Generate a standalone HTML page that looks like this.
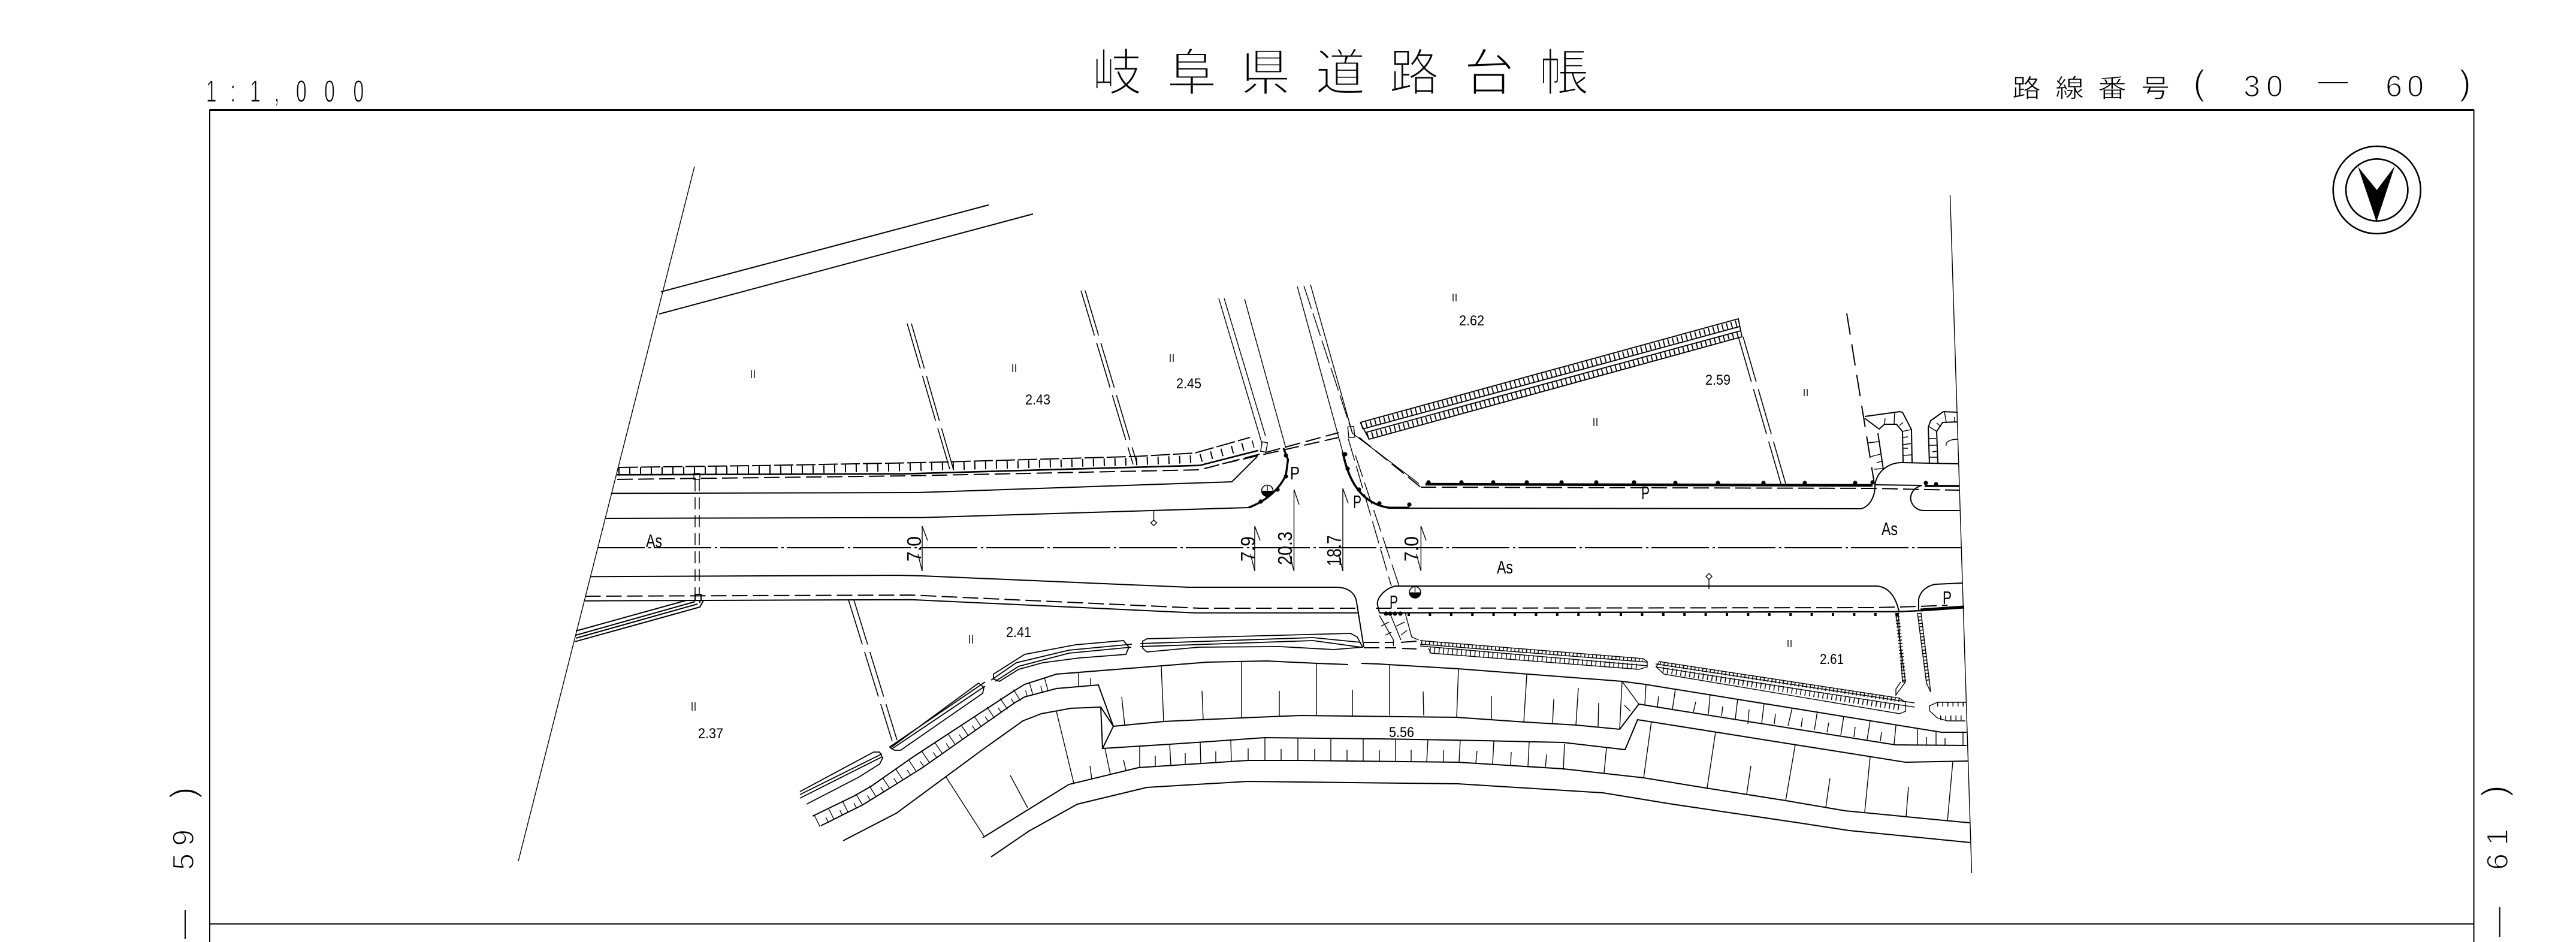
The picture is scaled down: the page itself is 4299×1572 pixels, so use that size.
<!DOCTYPE html>
<html><head><meta charset="utf-8"><style>
html,body{margin:0;padding:0;background:#fff}
svg{display:block}
.l{fill:none;stroke:#000;stroke-width:2}
.t{fill:none;stroke:#000;stroke-width:1.4}
.k{fill:none;stroke:#000;stroke-width:4}
.d{fill:none;stroke:#000;stroke-width:2;stroke-dasharray:26 9}
.e{fill:none;stroke:#000;stroke-width:1.6;stroke-dasharray:78 13}
.c{fill:none;stroke:#000;stroke-width:1.5}
text{fill:#000}
.cjk{font-family:"Liberation Sans","Noto Sans CJK JP",sans-serif;text-anchor:middle;stroke:#fff}
.la{font-family:"Liberation Sans",sans-serif;font-size:31px}
.nm{font-family:"Liberation Sans",sans-serif;font-size:24px}
.di{font-family:"Liberation Sans",sans-serif;font-size:33px}
.th{font-family:"Liberation Sans",sans-serif;stroke:#fff;text-anchor:middle}
</style></head><body>
<svg width="4299" height="1572" viewBox="0 0 4299 1572" xmlns="http://www.w3.org/2000/svg">
<rect width="4299" height="1572" fill="#fff"/>
<!-- frame -->
<path class="l" d="M350 1572V183.5H4128.5V1572"/>
<path d="M350 183.5H4128.5" stroke="#000" stroke-width="3" fill="none"/>
<path class="l" d="M350 1541.7H4128"/>
<!-- headers -->
<g class="cjk" font-size="84" stroke-width="3">
<text x="1864" y="151">岐</text><text x="1989" y="151">阜</text><text x="2112" y="151">県</text><text x="2237" y="151">道</text><text x="2360" y="151">路</text><text x="2485" y="151">台</text><text x="2610" y="151">帳</text>
</g>
<g class="cjk" font-size="48" stroke-width="1" transform="translate(0,162) scale(1,.88)">
<text x="3382" y="0">路</text><text x="3454" y="0">線</text><text x="3525" y="0">番</text><text x="3597" y="0">号</text>
</g>
<g class="th" font-size="52" stroke-width="1.3" transform="translate(0,170) scale(.62,1)">
<text x="569 627 687 745 811 887 965" y="0">1:1,000</text>
</g>
<g class="th" stroke-width="1.6" font-size="50">
<text x="3670" y="158" font-size="58">(</text>
<text x="3758 3796" y="161">30</text>
<text x="3995 4031" y="161">60</text>
<text x="4114" y="158" font-size="58">)</text>
</g>
<path class="l" d="M3869 138H3918"/>
<g class="th" font-size="50" stroke-width="1.6">
<text transform="translate(323,1438) rotate(-90)" x="0" y="0">5</text>
<text transform="translate(323,1398) rotate(-90)" x="0" y="0">9</text>
<text transform="translate(325,1323) rotate(-90)" x="0" y="0" font-size="58">)</text>
<text transform="translate(4185,1438) rotate(-90)" x="0" y="0">6</text>
<text transform="translate(4185,1397) rotate(-90)" x="0" y="0">1</text>
<text transform="translate(4182,1320) rotate(-90)" x="0" y="0" font-size="58">)</text>
</g>
<path class="l" d="M309 1519V1567M4171.7 1514V1564"/>
<!-- compass -->
<circle class="l" cx="3966.7" cy="317" r="73" style="stroke-width:2.6"/>
<circle class="l" cx="3966.7" cy="317" r="51.7" style="stroke-width:2.6"/>
<path d="M3935 278L3966.7 317L3996.7 277L3966 370Z" fill="#000"/>
<!-- boundaries -->
<path class="t" d="M1159 278L865 1437M3254.5 326L3290.5 1457"/>
<path class="l" d="M1103 487L1650 342M1100 524L1724 357"/>
<!-- centerline -->
<path d="M998 914H3272" fill="none" stroke="#000" stroke-width="2" stroke-dasharray="96 6 4 5" stroke-dashoffset="18"/>
<!-- upper road left -->
<path fill="none" stroke="#000" stroke-width="2.6" d="M1030 792.3L1512 790.7L2002 776.7L2100 751.7"/>
<path class="l" stroke-dasharray="32 5" d="M1033 780L1283 776.7L1550 771.7L1895 761.7L1994 756L2086 730"/>
<path fill="none" stroke="#000" stroke-width="13" stroke-dasharray="2 16" d="M1032 786L1283 784.5L1550 779L1895 770L1998 766L2092 741"/>
<path class="d" d="M1030 800L1520 794L2002 784L2094 760L2234 722"/>
<path class="d" d="M2040 774L2234 730"/>
<path class="l" d="M1021 823.3L1531 822L2056 804L2098 762"/>
<path class="l" d="M1011 865L1539 863.7L2084 847"/>
<path fill="none" stroke="#000" stroke-width="3.4" d="M2084 847Q2128 830 2146 793L2149.5 767L2142 748"/>
<!-- lower road left -->
<path class="l" d="M986.5 962.3L1497 960L1539 961L1983 980L2230 980C2250 980 2262 990 2264 1005L2276 1080"/>
<path class="d" d="M976.5 995L1520 993L2002 1015L2268 1015"/>
<path class="d" d="M2296 1015L3129 1014L3202 1012L3250 1010"/>
<path class="l" d="M976.5 1002.7L1520 1000.7L1994 1022.7L2268 1022.7"/>
<path fill="none" stroke="#000" stroke-width="2.4" d="M2302 1022.7L3170 1020.7L3205 1019"/>
<path fill="none" stroke="#000" stroke-width="5" d="M3205 1018L3278 1013"/>
<path fill="none" stroke="#000" stroke-width="5" stroke-dasharray="4 31.4" d="M2349 1025.5H3170"/>
<!-- vertical double dashed -->
<path fill="none" stroke="#000" stroke-width="1.5" stroke-dasharray="20 10" d="M1160 800V992M1167 800V992"/>
<rect class="t" x="1158" y="790" width="10" height="10"/><rect class="l" x="1160" y="992" width="10" height="10"/>
<!-- lower-left diagonal -->
<path class="l" d="M1145 1002L961 1053M1160 1004L961 1060M1164 1008L961 1065M1174 1002L1168 1013L960 1070.7M1168 1002V1006"/>
<!-- dashed doubles -->
<path class="e" d="M1514 540L1585 783M1521 540L1591 783"/>
<path class="e" d="M1804 485L1891 775M1811 485L1897 772"/>
<path class="e" d="M1416 1001L1489 1237M1425 1001L1497 1235"/>
<path class="e" d="M2901 562L2972 807M2909 562L2980 807"/>
<path class="t" d="M2034 498L2106 740M2043 498L2112 728M2077 499L2146 748"/>
<path class="l" stroke-dasharray="36 16" d="M3082 523L3128 807"/>
<!-- junction -->
<path class="t" d="M2165 478L2241 755"/>
<path class="t" stroke-dasharray="40 8" d="M2176 477L2257 723"/>
<path class="t" d="M2187 475L2257 723"/>
<path fill="none" stroke="#000" stroke-width="1.4" stroke-dasharray="38 10" d="M2250 732L2322 978M2262 760L2335 978"/>
<path class="t" d="M2257 723L2368 807"/>
<path class="d" d="M2268 730L2371 813"/>
<path fill="none" stroke="#000" stroke-width="3.6" d="M2241 755C2250 800 2270 840 2318 847.3H2352"/>
<rect class="t" x="2105" y="738" width="9" height="16" transform="rotate(10 2110 746)"/>
<rect class="t" x="2250" y="712" width="10" height="18" transform="rotate(-6 2255 720)"/>
<!-- right upper curb -->
<path fill="none" stroke="#000" stroke-width="4.4" d="M2379 808L3125 810"/>
<g fill="#000"><circle cx="2384" cy="805" r="3.6"/><circle cx="2439" cy="805" r="3.6"/><circle cx="2492" cy="805" r="3.6"/><circle cx="2548" cy="805" r="3.6"/><circle cx="2606" cy="805" r="3.6"/><circle cx="2664" cy="805" r="3.6"/><circle cx="2727" cy="805" r="3.6"/><circle cx="2796" cy="806" r="3.6"/><circle cx="2867" cy="806" r="3.6"/><circle cx="2943" cy="806" r="3.6"/><circle cx="3012" cy="806" r="3.6"/><circle cx="3096" cy="806" r="3.6"/><circle cx="3125" cy="805" r="3.6"/>
<circle cx="2146" cy="760" r="3.6"/><circle cx="2146" cy="795" r="3.6"/><circle cx="2132" cy="817" r="3.6"/><circle cx="2104" cy="837" r="3.6"/>
<circle cx="2245" cy="758" r="3.6"/><circle cx="2249" cy="782" r="3.6"/><circle cx="2268" cy="817" r="3.6"/><circle cx="2302" cy="840" r="3.6"/><circle cx="2352" cy="842" r="3.6"/>
<circle cx="2313" cy="1024" r="3.6"/><circle cx="2320" cy="1024" r="3.6"/><circle cx="2328" cy="1024" r="3.6"/><circle cx="2337" cy="1024" r="3.6"/>
<circle cx="3231" cy="808" r="3.6"/><circle cx="3214" cy="806" r="3.6"/>
</g>
<path class="d" d="M2371 813L3129 815L3198 816.7L3270 818"/>
<path class="l" d="M2318 848L3106 849C3120 845 3128 830 3129 815C3128 790 3150 772 3173 772L3268 774"/>
<path class="l" d="M3128 809L3207 810C3190 815 3186 830 3190 838C3194 848 3203 852 3210 852L3271 852"/>
<path fill="none" stroke="#000" stroke-width="3.4" d="M3212 811H3270"/>
<!-- right lower upper edge -->
<path class="l" d="M2329 978L3133 978C3150 980 3163 993 3169 1020"/>
<path class="l" d="M2329 978C2310 982 2296 1000 2299 1010L2302 1022"/>
<path class="l" d="M3202 1018L3202 1000C3205 985 3218 977 3230 975L3275 973"/>
<!-- driveway structures -->
<path class="l" d="M3112 695L3170 687L3175 688L3190 717L3191 772M3112 698L3136 716L3145 708H3165L3175 720L3176 772M3134 723L3143 783"/>
<path class="t" d="M3162 687L3161 707M3146 698L3145 708M3170 710L3176 705M3175 720L3189 717M3176 730L3184 729M3176 742L3191 740M3176 748L3184 748M3176 760L3191 759M3118 739L3135 737M3122 762L3138 758M3132 772L3140 770M3128 783L3142 782"/>
<path class="l" d="M3220 774L3218 713L3222 702L3243 687L3267 688M3234 774L3232 720L3242 705L3267 704"/>
<path class="t" d="M3218 711L3232 720M3232 706L3239 712M3245 687L3248 704M3262 696V704M3219 732H3231M3219 743L3232 743M3225 754L3232 753M3219 763H3233M3248 744C3246 738 3254 733 3267 733"/>
<!-- lower junction hatching -->
<path class="t" d="M2302 1027L2325.5 1068L2325.5 1078M2345 1023L2356 1063L2367.6 1068M2321 1027L2338 1068"/>
<path class="t" d="M2305 1045L2318 1038M2312 1060L2322 1055M2330 1045L2344 1038M2338 1060L2348 1052"/>
<path class="d" d="M2276 1072H2326M2338 1072L2364 1070M2276 1081H2330M2340 1082L2364 1083"/>
<!-- islands -->
<g class="l" style="stroke-width:1.8">
<path d="M1335 1321L1458 1255H1468L1473 1265L1468 1275L1433 1297L1346 1342"/>
<path d="M1335 1326L1472 1258M1335 1332L1472 1263"/>
<path d="M1486 1248L1633 1140L1642 1147L1640 1157L1503 1252L1493 1252Z"/>
<path d="M1484 1247L1644 1138M1488 1250L1644 1145"/>
<path d="M1658 1125L1710 1092L1795 1076L1875 1069L1884 1080L1879 1092L1801 1098L1740 1106L1700 1117L1668 1137L1658 1133Z"/>
<path d="M1654 1135L1696 1106L1784 1085L1889 1075M1661 1137L1700 1112L1784 1090L1888 1080"/>
<path d="M1907 1070L1914 1066L2254 1057L2265 1063L2274 1080L2226 1084L2135 1079L2001 1080L1914 1088L1907 1082Z"/>
<path d="M1903 1074L2191 1064L2271 1072M1903 1079L2191 1069L2271 1080"/>
</g>
<path class="d" d="M2276 1072H2310"/>
<!-- hatched islands E F -->
<g class="t">
<path d="M2370 1069L2742 1099L2749 1104L2749 1113L2735 1117L2388 1090L2384 1082"/>
<path d="M2370 1075L2749 1105M2370 1078L2749 1111"/>
<path d="M2769 1104L3170 1165L3180 1172L3180 1187L3170 1191L2777 1125L2764 1113Z"/>
<path d="M2763 1108L3195 1173M2763 1113L3195 1180"/>
<path d="M3233 1172L3220 1178V1186L3233 1198L3250 1203H3280M3233 1172H3282"/>
<path d="M3164 1023L3180 1138L3175 1138L3168 1023M3180 1138L3164 1160L3164 1150L3172 1138"/>
<path d="M3206 1023L3222 1155L3215 1140L3200 1023"/>
</g>
<g class="c">
<path stroke-dasharray="1.5 5" d="M2372 1072L2742 1102" style="stroke-width:6"/>
<path stroke-dasharray="1.5 6" d="M2386 1085L2737 1113" style="stroke-width:10"/>
<path stroke-dasharray="1.5 5" d="M2770 1107L3170 1169" style="stroke-width:6"/>
<path stroke-dasharray="1.5 6" d="M2775 1118L3170 1181" style="stroke-width:10"/>
<path stroke-dasharray="1.8 6" d="M2272 711L2902 539" style="stroke-width:11"/>
<path stroke-dasharray="1.8 6" d="M2282 728L2906 557" style="stroke-width:11"/>
<path stroke-dasharray="1.6 4" d="M3166 1023L3178 1138" style="stroke-width:7"/>
<path stroke-dasharray="1.6 4" d="M3203 1023L3218 1140" style="stroke-width:7"/>
<path stroke-dasharray="1.5 7" d="M3233 1175H3282" style="stroke-width:8"/>
<path stroke-dasharray="1.5 7" d="M3238 1198H3280" style="stroke-width:8"/>
</g>
<path class="l" style="stroke-width:1.8" d="M2270 705L2901 532L2907 562L2285 733L2270 705M2274 716L2903 545M2278 722L2905 552"/>
<!-- road embankment strips -->
<path class="l" d="M1356 1362L1426 1328L1454 1312L1524 1263L1689 1155L1710 1142L1763 1125L2015 1105L2114 1103L2198 1107L2250 1109M2272 1107L2300 1108L2433 1116L2707 1137L2745 1142L3240 1222L3282 1222"/>
<path class="l" d="M1370 1378L1440 1343L1482 1317L1538 1282L1693 1173L1710 1163L1763 1149L1833 1143L1858 1212L1942 1204L2072 1198L2170 1194L2430 1197L2545 1205L2630 1210L2703 1217L2735 1175L2791 1184L3163 1243L3282 1244"/>
<path fill="none" stroke="#000" stroke-width="22" stroke-dasharray="1.3 25" d="M1363 1370L1433 1335L1468 1314L1531 1272L1691 1164L1710 1152L1763 1137"/>
<path fill="none" stroke="#000" stroke-width="10" stroke-dasharray="1.3 25" stroke-dashoffset="12" d="M1367 1375L1437 1340L1475 1316L1535 1277L1692 1169L1710 1158L1763 1143"/>
<path class="t" d="M1800 1123V1146M1820 1132V1145M1938 1112L1942 1204M2072 1105V1198M2197 1108V1194M2319 1109V1194M1872 1163L1877 1210M2006 1153L2008 1202M2135 1153V1196M2257 1151V1194M2375 1154L2376 1194"/>
<path class="t" d="M2434 1116L2431 1197M2548 1126L2543 1205M2489 1161V1201M2593 1167L2591 1208M2634 1148L2630 1210M2668 1173L2667 1213M2707 1137L2703 1217M2707 1137L2735 1175M2711 1177L2721 1187"/>
<path class="t" d="M2747 1142L2745 1177M2796 1150L2791 1184M2854 1158L2851 1192M2900 1166L2896 1200M2944 1174L2940 1207M2991 1181L2984 1211M3033 1187L3028 1218M3077 1195L3072 1227M3121 1203L3116 1234M3164 1211L3161 1242M3200 1217V1244M3231 1222V1244M2768 1162L2766 1179M2830 1171L2826 1188M2875 1179L2873 1195M2919 1184L2917 1208M2963 1191L2961 1208M3008 1198L3006 1213M3052 1206L3049 1222M3096 1213L3094 1230M3140 1222L3138 1237M3215 1230V1244M3246 1232V1244M3276 1223V1244"/>
<!-- lower road strip -->
<path class="l" d="M1407 1403L1496 1357L1637 1253L1707 1203L1738 1191L1787 1182L1837 1180L1858 1212L1840 1249L1952 1242L2054 1235L2110 1231L2303 1233L2475 1236L2609 1239L2712 1251L2733 1201L3180 1272L3284 1270"/>
<path class="l" d="M1837 1180L1840 1249"/>
<path class="l" d="M1640 1398L1784 1309L1900 1281L2082 1269L2170 1269L2433 1272L2609 1283L2743 1298L2847 1315L2980 1336L3079 1353L3254 1370L3287 1373"/>
<path class="l" d="M1654 1430L1717 1387L1798 1342L1914 1314L2082 1304L2433 1308L2675 1323L2791 1342L3001 1373L3086 1386L3288 1406"/>
<path class="t" d="M1763 1187L1792 1307M1579 1297L1642 1395M1686 1294L1715 1348M1819 1278L1822 1300M1844 1249L1853 1292M1875 1268L1879 1286M1902 1246L1902 1281M1928 1261V1279M1952 1242L1954 1277M1978 1257V1276M2003 1239L2004 1275M2029 1254V1273M2054 1236L2055 1271M2083 1249V1269M2111 1231V1269M2138 1250V1269M2166 1231V1269M2194 1250V1270M2221 1232V1270M2248 1251V1271M2275 1233V1271M2302 1252V1272M2329 1234V1272"/>
<path class="t" d="M2355 1251V1271M2383 1234L2381 1272M2409 1252V1272M2437 1235L2435 1272M2465 1253L2463 1273M2493 1236L2491 1275M2522 1255L2521 1277M2552 1238L2550 1279M2581 1259L2579 1282M2611 1241L2609 1285M2681 1248L2677 1290M2756 1204L2743 1298M2863 1222L2849 1315M2996 1243L2980 1336M3121 1263L3112 1355M3259 1271L3250 1370M2922 1278L2915 1325M3054 1299L3047 1347M3185 1313L3181 1363"/>
<!-- lamps / circles -->
<path class="t" d="M1925.5 852V868M1925.5 868L1930.5 872.5L1925.5 877L1920.5 872.5Z"/>
<path class="t" d="M2852 983V967M2852 957L2857 962L2852 967L2847 962Z"/>
<circle cx="2115" cy="819" r="9.5" fill="#fff" stroke="#000" stroke-width="1.6"/><path d="M2105.5 819A9.5 9.5 0 0 0 2124.5 819Z" fill="#000"/>
<circle cx="2361.5" cy="988.5" r="9.5" fill="#fff" stroke="#000" stroke-width="1.6"/><path d="M2352 988.5A9.5 9.5 0 0 0 2371 988.5Z" fill="#000"/>
<path class="t" d="M2115 809.5V819M2361.5 979V988"/>
<!-- dimension lines -->
<path class="t" d="M1539 878V953M1539 878L1548 902M1539 953L1532 925"/>
<path class="t" d="M2094 878V953M2094 878L2103 902M2094 953L2087 925"/>
<path class="t" d="M2159.5 817V953M2159.5 817L2168 842M2159.5 953L2152 925"/>
<path class="t" d="M2241 815V953M2241 815L2250 840M2241 953L2234 925"/>
<path class="t" d="M2371.4 878V953M2371.4 878L2380 902M2371.4 953L2364 925"/>
<g class="di">
<text transform="translate(1537,937) rotate(-90)" textLength="42" lengthAdjust="spacingAndGlyphs">7.0</text>
<text transform="translate(2094,937) rotate(-90)" textLength="42" lengthAdjust="spacingAndGlyphs">7.9</text>
<text transform="translate(2156,943) rotate(-90)" textLength="56" lengthAdjust="spacingAndGlyphs">20.3</text>
<text transform="translate(2238,945) rotate(-90)" textLength="52" lengthAdjust="spacingAndGlyphs">18.7</text>
<text transform="translate(2367,937) rotate(-90)" textLength="42" lengthAdjust="spacingAndGlyphs">7.0</text>
</g>
<!-- As / P -->
<g class="la">
<text x="1078" y="913" textLength="27" lengthAdjust="spacingAndGlyphs">As</text>
<text x="2498" y="957" textLength="27" lengthAdjust="spacingAndGlyphs">As</text>
<text x="3140" y="893" textLength="27" lengthAdjust="spacingAndGlyphs">As</text>
<text x="2153" y="800" textLength="16" lengthAdjust="spacingAndGlyphs">P</text>
<text x="2258" y="848" textLength="14" lengthAdjust="spacingAndGlyphs">P</text>
<text x="2739" y="833" textLength="14" lengthAdjust="spacingAndGlyphs">P</text>
<text x="2319" y="1015" textLength="14" lengthAdjust="spacingAndGlyphs">P</text>
<text x="3242" y="1008" textLength="15" lengthAdjust="spacingAndGlyphs">P</text>
</g>
<!-- elevations -->
<g class="nm">
<text x="1711" y="675" textLength="42" lengthAdjust="spacingAndGlyphs">2.43</text>
<text x="1963" y="648" textLength="42" lengthAdjust="spacingAndGlyphs">2.45</text>
<text x="2435" y="543" textLength="42" lengthAdjust="spacingAndGlyphs">2.62</text>
<text x="2846" y="642" textLength="42" lengthAdjust="spacingAndGlyphs">2.59</text>
<text x="3037" y="1108" textLength="40" lengthAdjust="spacingAndGlyphs">2.61</text>
<text x="1679" y="1063" textLength="42" lengthAdjust="spacingAndGlyphs">2.41</text>
<text x="1165" y="1232" textLength="42" lengthAdjust="spacingAndGlyphs">2.37</text>
<text x="2318" y="1230" textLength="42" lengthAdjust="spacingAndGlyphs">5.56</text>
</g>
<!-- small tick marks -->
<path class="t" d="M1254 618V631M1259 618V631M1690 608V621M1695 608V621M1953 591V604M1958 591V604M2425 490V503M2430 490V503M2660 698V711M2665 698V711M3011 649V661M3016 649V661M2984 1068V1080M2989 1068V1080M1618 1060V1074M1623 1060V1074M1155 1172V1186M1160 1172V1186"/>
</svg>
</body></html>
